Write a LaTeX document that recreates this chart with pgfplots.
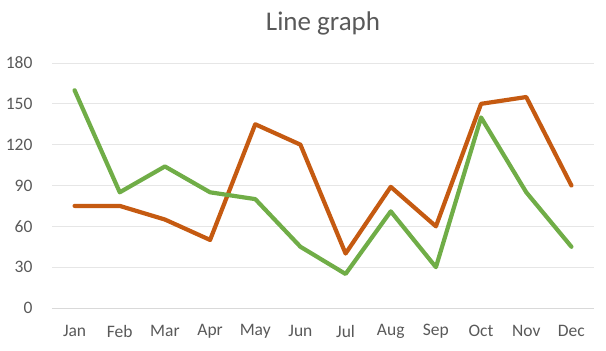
\documentclass[border=0pt]{standalone}
\usepackage{pgfplots}
\pgfplotsset{compat=1.18}
\usepackage{fontspec}
\setmainfont{Carlito}
\definecolor{txt}{HTML}{595959}
\definecolor{grid}{HTML}{E6E6E6}
\definecolor{axl}{HTML}{D9D9D9}
\definecolor{orng}{HTML}{C55A11}
\definecolor{grn}{HTML}{70AD47}
\begin{document}
\begin{tikzpicture}
\useasboundingbox (-52pt,-43pt) rectangle (554pt,308pt);
\begin{axis}[
  at={(0,0)}, anchor=south west,
  scale only axis, width=542pt, height=245pt,
  xmin=-0.5, xmax=11.5, ymin=0, ymax=180,
  xtick={0,...,11},
  xticklabels={Jan,Feb,Mar,Apr,May,Jun,Jul,Aug,Sep,Oct,Nov,Dec},
  ytick={0,30,...,180},
  ymajorgrids, grid style={draw=grid, line width=0.8pt},
  axis x line*=bottom, axis y line*=left,
  x axis line style={draw=axl, line width=0.8pt, -},
  y axis line style={draw=none},
  tick style={draw=none},
  major tick length=0pt,
  ticklabel style={font=\fontsize{17.5}{17.5}\selectfont, text=txt},
  /pgf/number format/assume math mode=true,
  yticklabel style={anchor=east, xshift=-16pt},
  xticklabel style={anchor=center, yshift=-23pt},
  title={Line graph},
  title style={font=\fontsize{27}{27}\selectfont, text=txt, anchor=center, at={(0.5,1)}, yshift=34pt},
  clip=false,
]
\addplot[draw=orng, line width=4.2pt, line join=round, line cap=round, mark=none] coordinates {
 (0,75) (1,75) (2,65) (3,50) (4,135) (5,120) (6,40) (7,89) (8,60) (9,150) (10,155) (11,90)};
\addplot[draw=grn, line width=4.2pt, line join=round, line cap=round, mark=none] coordinates {
 (0,160) (1,85) (2,104) (3,85) (4,80) (5,45) (6,25) (7,71) (8,30) (9,140) (10,85) (11,45)};
\end{axis}
\end{tikzpicture}
\end{document}
